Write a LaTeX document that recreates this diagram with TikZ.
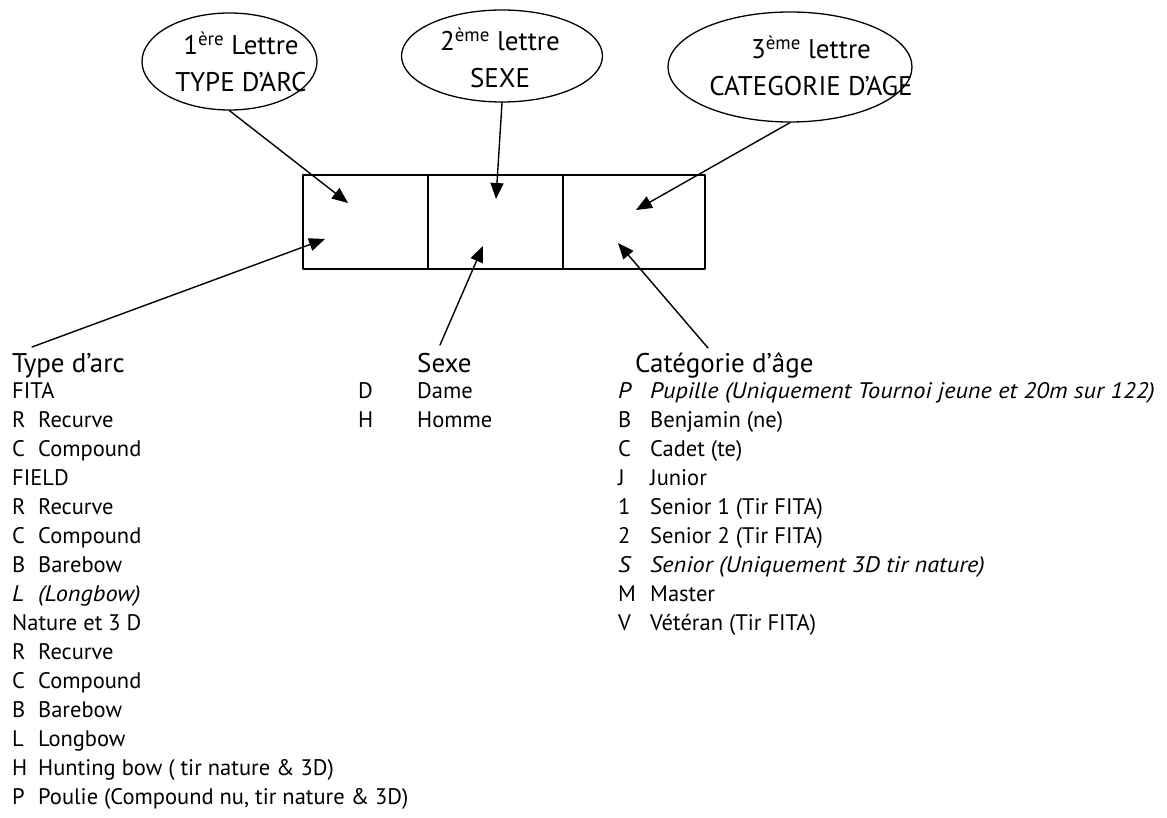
\documentclass[tikz,border=0pt]{standalone}
\usepackage{fontspec}
\setmainfont{PT Sans}[ItalicFeatures={FakeStretch=1.08}]
\usetikzlibrary{shapes.geometric,arrows.meta}
\tikzset{
  oval/.style={draw, ellipse, line width=1.3pt, inner sep=0pt},
  ovaltext/.style={align=center, inner sep=0pt, font=\fontsize{27}{37}\selectfont},
  cell/.style={draw, line width=2pt, minimum height=94pt, inner sep=0pt},
  head/.style={anchor=base west, inner sep=0pt, font=\fontsize{27}{29}\selectfont},
  items/.style={anchor=base west, inner sep=0pt, font=\fontsize{22.5}{29}\selectfont},
  pointer/.style={line width=1.4pt, -{Triangle[length=16pt,width=13pt]}}
}
\begin{document}
\begin{tikzpicture}[x=1pt, y=-1pt, line join=round, line cap=round]
		\def\heady{372}\def\rowy{398}
		\useasboundingbox (0,0) rectangle (1167,818);
		% the three letters
		\node[oval, minimum width=175pt, minimum height=97pt] (arc) at (229.5,61.5) {};
		\node[ovaltext] (arctxt) at (241,62) {1\textsuperscript{ère} Lettre\\TYPE D’ARC};
		\node[oval, minimum width=201pt, minimum height=92pt] (sex) at (502,56) {};
		\node[ovaltext] (sextxt) at (500,58) {2\textsuperscript{ème} lettre\\SEXE};
		\node[oval, minimum width=244pt, minimum height=110pt] (age) at (790,67) {};
		\node[ovaltext] (agetxt) at (811,66) {3\textsuperscript{ème} lettre\\CATEGORIE D’AGE};
		\node[cell, minimum width=125pt] (cellA) at (365.5,222) {};
		\node[cell, minimum width=135pt] (cellB) at (495.5,222) {};
		\node[cell, minimum width=142pt] (cellC) at (634,222) {};
		\coordinate (inA) at (348,203);
		\coordinate (inB) at (496,199);
		\coordinate (inC) at (636,210);
		\coordinate (inA2) at (325,239);
		\coordinate (inB2) at (483,246);
		\coordinate (inC2) at (618,243);
		\draw[pointer] (arc.south) -- (inA);
		\draw[pointer] (sex.south) -- (inB);
		\draw[pointer] (age.south) -- (inC);
		% the three lists
		\node[head] (typehead) at (12,\heady) {Type d’arc};
		\node[head] (sexhead) at (417,\heady) {Sexe};
		\node[head] (agehead) at (635,\heady) {Catégorie d’âge};
		\node[items] (typelist) at (12,\rowy) {\begin{tabular}[t]{@{}p{26pt}@{}l@{}}
			\multicolumn{2}{@{}l@{}}{FITA}\\
			R & Recurve\\
			C & Compound\\
			\multicolumn{2}{@{}l@{}}{FIELD}\\
			R & Recurve\\
			C & Compound\\
			B & Barebow\\
			\textit{L} & \textit{(Longbow)}\\
			\multicolumn{2}{@{}l@{}}{Nature et 3 D}\\
			R & Recurve\\
			C & Compound\\
			B & Barebow\\
			L & Longbow\\
			H & Hunting bow ( tir nature \& 3D)\\
			P & Poulie (Compound nu, tir nature \& 3D)
		\end{tabular}};
		\node[items] (sexlist) at (358,\rowy) {\begin{tabular}[t]{@{}p{59pt}@{}l@{}}
			D & Dame\\
			H & Homme
		\end{tabular}};
		\node[items] (agelist) at (618,\rowy) {\begin{tabular}[t]{@{}p{32pt}@{}l@{}}
			\textit{P} & \textit{Pupille (Uniquement Tournoi jeune et 20m sur 122)}\\
			B & Benjamin (ne)\\
			C & Cadet (te)\\
			J & Junior\\
			1 & Senior 1 (Tir FITA)\\
			2 & Senior 2 (Tir FITA)\\
			\textit{S} & \textit{Senior (Uniquement 3D tir nature)}\\
			M & Master\\
			V & Vétéran (Tir FITA)
		\end{tabular}};
		\coordinate (typeend) at (32,347);
		\coordinate (sexend) at (440,345);
		\coordinate (ageend) at (708,348);
		\draw[pointer] (typeend) -- (inA2);
		\draw[pointer] (sexend) -- (inB2);
		\draw[pointer] (ageend) -- (inC2);
\end{tikzpicture}
\end{document}
